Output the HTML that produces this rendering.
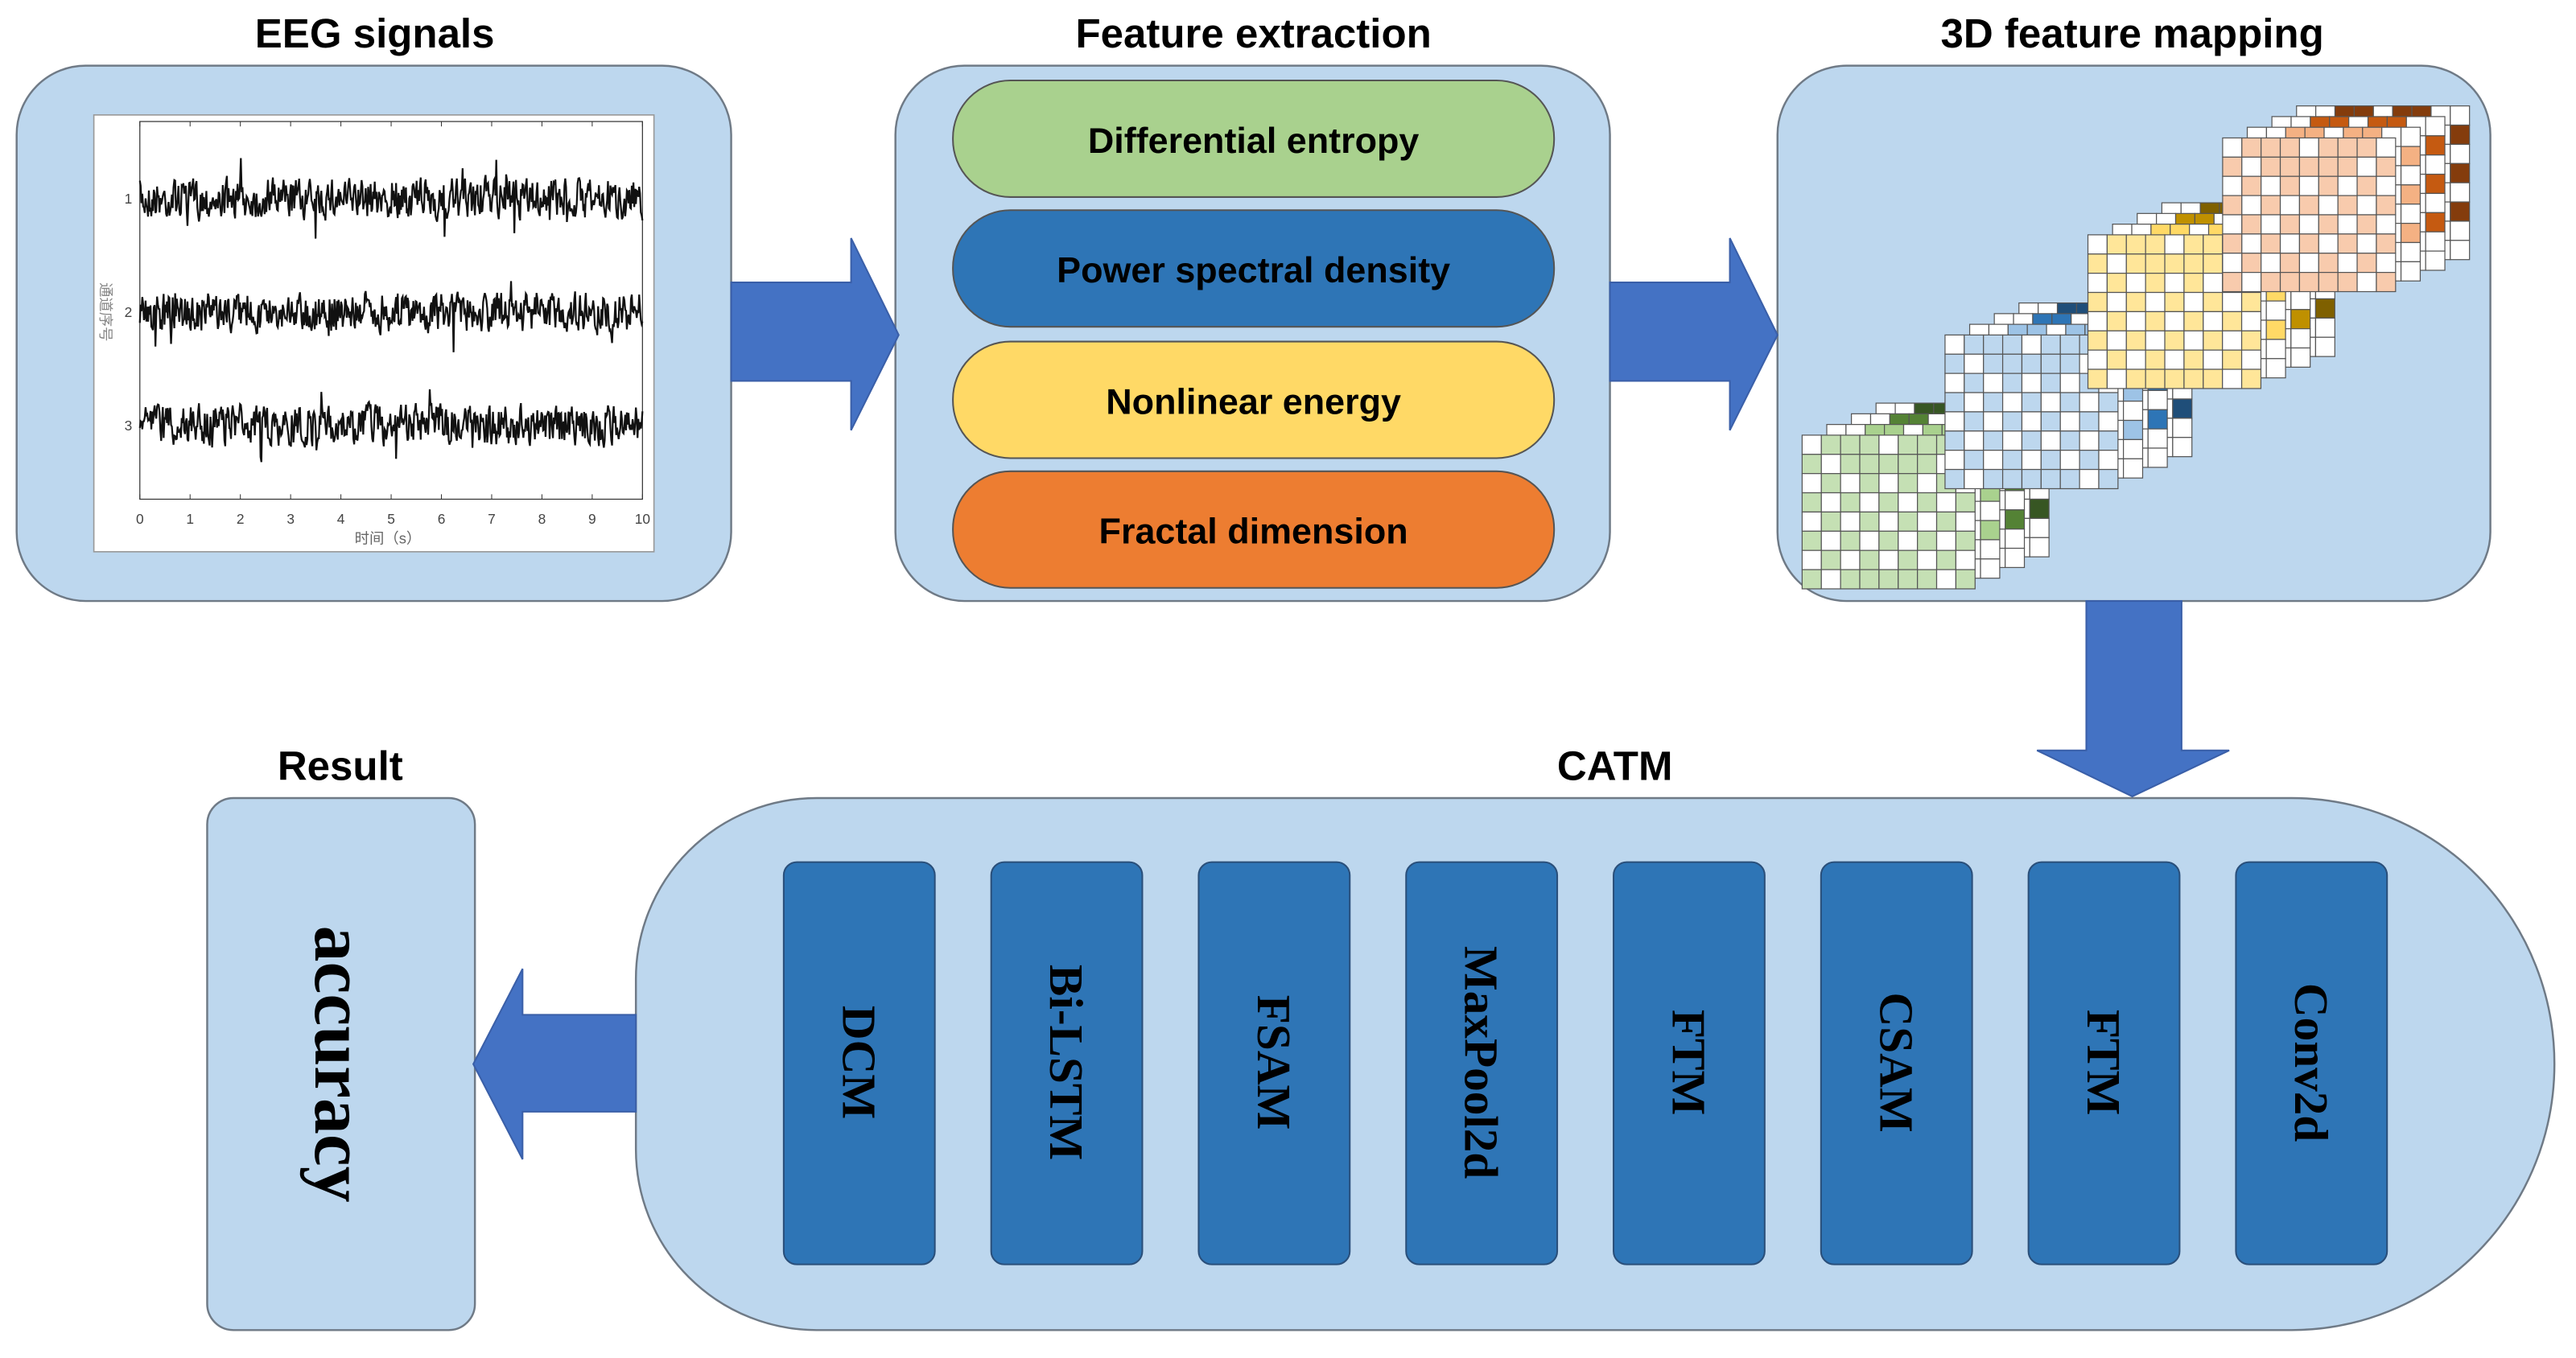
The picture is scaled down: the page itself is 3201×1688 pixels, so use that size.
<!DOCTYPE html>
<html><head><meta charset="utf-8"><style>
html,body{margin:0;padding:0;background:#fff;}
svg{display:block;}
</style></head><body>
<svg id="s" width="3201" height="1688" viewBox="0 0 1568 827" xmlns="http://www.w3.org/2000/svg">
<g font-family="Liberation Sans, sans-serif" font-weight="bold" font-size="25" text-anchor="middle" fill="#000">
<text x="228" y="29">EEG signals</text>
<text x="763" y="29">Feature extraction</text>
<text x="1298" y="29">3D feature mapping</text>
<text x="207" y="475">Result</text>
<text x="983" y="475">CATM</text>
</g>
<rect x="10" y="40" width="435" height="326" rx="42" fill="#BDD7EE" stroke="#6f7a86" stroke-width="1.2"/>
<rect x="545" y="40" width="435" height="326" rx="42" fill="#BDD7EE" stroke="#6f7a86" stroke-width="1.2"/>
<rect x="1082" y="40" width="434" height="326" rx="42" fill="#BDD7EE" stroke="#6f7a86" stroke-width="1.2"/>
<path d="M497,486 H1395 A160,162 0 0 1 1555,648 A160,162 0 0 1 1395,810 H497 A110,110 0 0 1 387,700 V596 A110,110 0 0 1 497,486 Z" fill="#BDD7EE" stroke="#6f7a86" stroke-width="1.2"/>
<rect x="126" y="486" width="163" height="324" rx="16" fill="#BDD7EE" stroke="#6f7a86" stroke-width="1.2"/>
<g fill="#4472C4" stroke="#3a5fa8" stroke-width="1">
<path d="M445,172 H518 V145 L547,204 L518,262 V232 H445 Z"/>
<path d="M980,172 H1053 V145 L1082,204 L1053,262 V232 H980 Z"/>
<path d="M1270,366 H1328 V457 H1357 L1298,485 L1240,457 H1270 Z"/>
<path d="M387,618 H318 V590 L288,648 L318,706 V677 H387 Z"/>
</g>
<g font-family="Liberation Sans, sans-serif" font-weight="bold" font-size="22" text-anchor="middle">
<rect x="580" y="49" width="366" height="71" rx="35" fill="#A9D18E" stroke="#555" stroke-width="1"/>
<text x="763" y="93">Differential entropy</text>
<rect x="580" y="128" width="366" height="71" rx="35" fill="#2E75B6" stroke="#555" stroke-width="1"/>
<text x="763" y="172">Power spectral density</text>
<rect x="580" y="208" width="366" height="71" rx="35" fill="#FFD966" stroke="#555" stroke-width="1"/>
<text x="763" y="252">Nonlinear energy</text>
<rect x="580" y="287" width="366" height="71" rx="35" fill="#ED7D31" stroke="#555" stroke-width="1"/>
<text x="763" y="331">Fractal dimension</text>
</g>
<rect x="57" y="70" width="341" height="266" fill="#fff" stroke="#999" stroke-width="0.8"/>
<rect x="85" y="74" width="306" height="230" fill="none" stroke="#333" stroke-width="0.6"/>
<g id="plot"></g>
<g font-family="Liberation Sans, sans-serif" font-size="8.5" fill="#444" text-anchor="middle" id="ticks">
<text x="78" y="124">1</text><text x="78" y="193">2</text><text x="78" y="262">3</text>
</g>
<text x="236" y="331" font-family="Liberation Sans, Noto Sans CJK SC, sans-serif" font-size="9" fill="#666" text-anchor="middle">时间（s）</text>
<text transform="rotate(90 64 190)" x="64" y="193" font-family="Liberation Sans, Noto Sans CJK SC, sans-serif" font-size="9" fill="#888" text-anchor="middle">通道序号</text>
<g id="grids"></g>
<g id="blocks" font-family="Liberation Serif, serif" font-weight="bold" font-size="29" text-anchor="middle"></g>
<text transform="rotate(90 207 648)" x="207" y="663" font-family="Liberation Serif, serif" font-weight="bold" font-size="44" text-anchor="middle">accuracy</text>
</svg>
<script>
var NS="http://www.w3.org/2000/svg";
function el(t,a,p){var e=document.createElementNS(NS,t);for(var k in a)e.setAttribute(k,a[k]);p.appendChild(e);return e;}
var seed=7;function rnd(){seed=(seed*16807)%2147483647;return seed/2147483647;}
var plot=document.getElementById('plot');
[121,190,259].forEach(function(cy,i){
 var d="",v=0;
 for(var x=85;x<=391;x+=0.5){v=v*0.3+(rnd()-0.5)*22;var sp=rnd()<0.03?(rnd()-0.5)*36:0;var y=cy+v+sp;d+=(d?"L":"M")+x.toFixed(1)+","+y.toFixed(1);}
 el('path',{d:d,fill:'none',stroke:'#111','stroke-width':1.1},plot);
});
var tk=document.getElementById('ticks');
for(var i=0;i<=10;i++){var x=85+i*30.6;var t=el('text',{x:x,y:319},tk);t.textContent=i;
 el('line',{x1:x,y1:304,x2:x,y2:301,stroke:'#333','stroke-width':0.5},plot);el('line',{x1:x,y1:74,x2:x,y2:77,stroke:'#333','stroke-width':0.5},plot);}
var g=document.getElementById('grids');
var groups=[[1097,265,['#C5E0B4','#A9D18E','#548235','#375623']],[1184,204,['#BDD7EE','#9DC3E6','#2E75B6','#1F4E79']],[1271,143,['#FFE699','#FFD966','#BF9000','#7F6000']],[1353,84,['#F8CBAD','#F4B183','#C55A11','#843C0C']]];
var cs=11.7;
groups.forEach(function(G){
 for(var L=3;L>=0;L--){
  var ox=G[0]+L*15,oy=G[1]-L*6.5;
  for(var r=0;r<8;r++)for(var c=0;c<9;c++){
   var col;
   if(L==0){col=((r+c)%2==1||((c==2||c==3||c==5||c==6)&&r<2)||(c>=3&&c<=5&&r==7))?G[2][0]:'#fff';}
   else{col=((r==0&&(c==2||c==3||c==5||c==6))||(c==8&&r%2==1&&r<7))?G[2][L]:'#fff';}
   el('rect',{x:ox+c*cs,y:oy+r*cs,width:cs,height:cs,fill:col,stroke:'#555','stroke-width':0.6},g);
  }
 }
});
var b=document.getElementById('blocks');
var names=['DCM','Bi-LSTM','FSAM','MaxPool2d','FTM','CSAM','FTM','Conv2d'];
names.forEach(function(n,i){var x=477+i*126.3;
 el('rect',{x:x,y:525,width:92,height:245,rx:8,fill:'#2E75B6',stroke:'#2a4f7a','stroke-width':1},b);
 var cx=x+46,cy=647;var t=el('text',{x:cx,y:cy+10,transform:'rotate(90 '+cx+' '+cy+')'},b);t.textContent=n;});
</script>
</body></html>
